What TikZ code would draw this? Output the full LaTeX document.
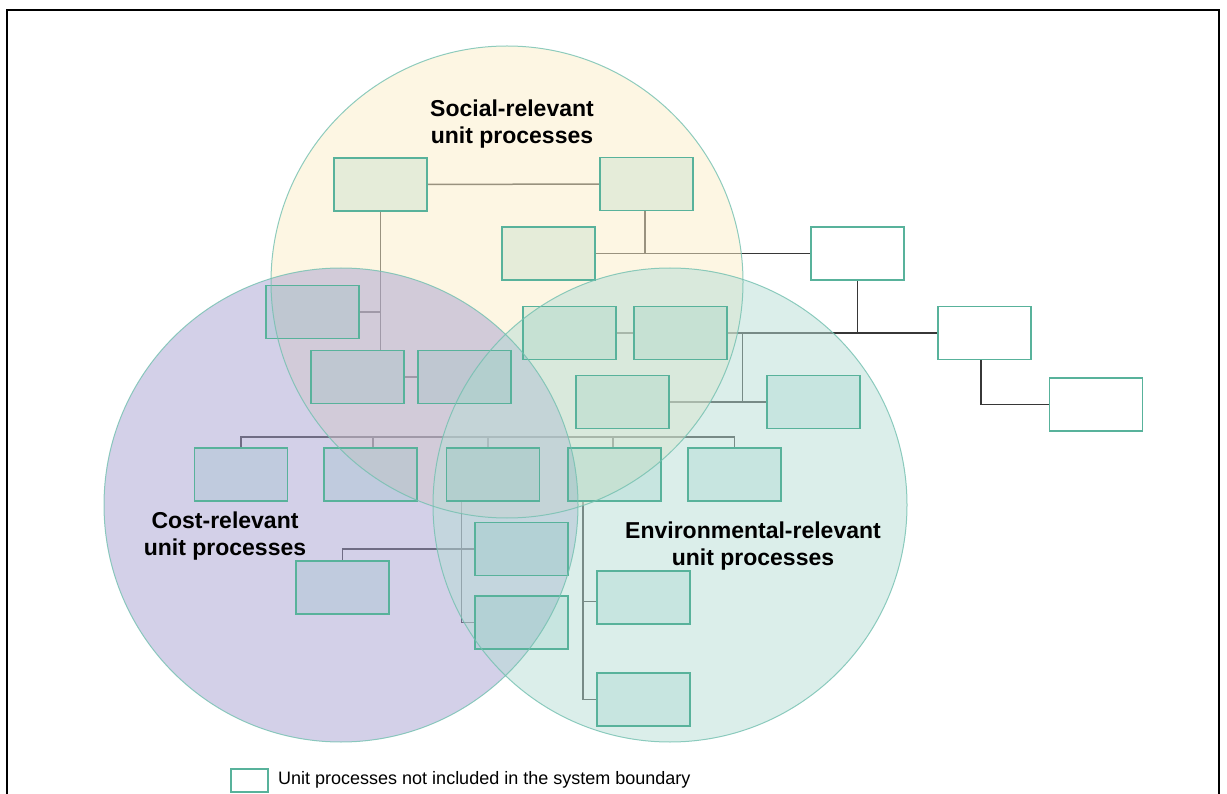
\documentclass[tikz,border=0pt]{standalone}
\usepackage{fontspec}
\setmainfont{Liberation Sans}
\definecolor{socfill}{RGB}{251,237,199}
\definecolor{costfill}{RGB}{167,161,209}
\definecolor{envfill}{RGB}{183,221,213}
\definecolor{circline}{RGB}{115,192,176}
\definecolor{boxline}{RGB}{88,178,155}
\definecolor{boxtint}{RGB}{60,170,150}
\definecolor{connline}{RGB}{55,55,55}
\begin{document}
\begin{tikzpicture}[x=1pt,y=-1pt,
  conn/.style={draw=connline,line width=1.5pt},
  upbox/.style={draw=boxline,line width=1.8pt,minimum width=93pt,minimum height=53pt,inner sep=0pt,outer sep=0pt,fill=boxtint,fill opacity=0.12,draw opacity=1},
  outbox/.style={draw=boxline,line width=1.8pt,minimum width=93pt,minimum height=53pt,inner sep=0pt,outer sep=0pt,fill=white},
  legbox/.style={draw=boxline,line width=1.8pt,minimum width=37pt,minimum height=23pt,inner sep=0pt,outer sep=0pt,fill=white},
  circ/.style={draw=circline,line width=1pt,draw opacity=0.8,fill opacity=0.5},
  lbl/.style={align=center,font=\fontsize{23}{27.5}\selectfont\bfseries,inner sep=0pt},
  legtxt/.style={anchor=west,font=\fontsize{18}{21}\selectfont,inner sep=0pt}
]
\useasboundingbox (0,0) rectangle (1227,794);
% frame
\draw[line width=2pt,black] (7,794) -- (7,10.5) -- (1219,10.5) -- (1219,794);

% box positions (coordinates only, boxes drawn later)
\path
  (380.5,184.5) coordinate (pb1)
  (646.5,184) coordinate (pb2)
  (548.5,253.5) coordinate (pb3)
  (857.5,253.5) coordinate (po1)
  (312.5,312) coordinate (pb4)
  (357.5,377) coordinate (pb5)
  (464.5,377) coordinate (pb6)
  (569.5,333) coordinate (pb7)
  (680.5,333) coordinate (pb8)
  (984.5,333) coordinate (po2)
  (622.5,402) coordinate (pb9)
  (813.5,402) coordinate (pb10)
  (1096,404.5) coordinate (po3)
  (241,474.5) coordinate (prA)
  (370.5,474.5) coordinate (prB)
  (493,474.5) coordinate (prC)
  (614.5,474.5) coordinate (prD)
  (734.5,474.5) coordinate (prE)
  (521.5,549) coordinate (pe1)
  (521.5,622.5) coordinate (pe2)
  (342.5,587.5) coordinate (pf)
  (643.5,597.5) coordinate (pg1)
  (643.5,699.5) coordinate (pg2);

% invisible placeholders to get anchors for connectors
\begin{scope}[every node/.style={minimum width=93pt,minimum height=53pt,inner sep=0pt,outer sep=0pt}]
\node (b1) at (pb1) {}; \node (b2) at (pb2) {}; \node (b3) at (pb3) {};
\node (o1) at (po1) {}; \node (b4) at (pb4) {}; \node (b5) at (pb5) {};
\node (b6) at (pb6) {}; \node (b7) at (pb7) {}; \node (b8) at (pb8) {};
\node (o2) at (po2) {}; \node (b9) at (pb9) {}; \node (b10) at (pb10) {};
\node (o3) at (po3) {}; \node (rA) at (prA) {}; \node (rB) at (prB) {};
\node (rC) at (prC) {}; \node (rD) at (prD) {}; \node (rE) at (prE) {};
\node (e1) at (pe1) {}; \node (e2) at (pe2) {}; \node (f) at (pf) {};
\node (g1) at (pg1) {}; \node (g2) at (pg2) {};
\end{scope}

% connectors
\draw[conn] (b1.east) -- (b2.west);
\draw[conn] (b1.south) -- (b1.south |- b5.north);
\draw[conn] (b4.east) -- (b4.east -| b1.south);
\draw[conn] ([xshift=-1.5pt]b2.south) -- ([xshift=-1.5pt]b2.south |- b3.east);
\draw[conn] (b3.east) -- (o1.west);
\draw[conn] (b5.east) -- (b6.west);
\draw[conn] (b7.east) -- (b8.west);
\draw[conn] (b8.east) -- (o2.west);
\draw[conn] (o1.south) -- (o1.south |- o2.west);
\coordinate (j1) at ([xshift=15.5pt]b8.east);
\draw[conn] (j1) -- (j1 |- b9.east);
\draw[conn] (b9.east) -- (b10.west);
\draw[conn] ([xshift=-3.5pt]o2.south) |- (o3.west);
\coordinate (bus) at (0,437);
\draw[conn] (rA.north) |- (bus -| rE.north) -- (rE.north);
\draw[conn] ([xshift=2.5pt]rB.north) -- ([xshift=2.5pt]rB.north |- bus);
\draw[conn] ([xshift=-5pt]rC.north) -- ([xshift=-5pt]rC.north |- bus);
\draw[conn] ([xshift=-1.5pt]rD.north) -- ([xshift=-1.5pt]rD.north |- bus);
\coordinate (c1) at ([xshift=15pt]rC.south west);
\draw[conn] (c1) |- (e2.west);
\draw[conn] (e1.west) -| (f.north);
\coordinate (d1) at ([xshift=15pt]rD.south west);
\draw[conn] (d1) |- (g2.west);
\draw[conn] ([yshift=-4pt]d1 |- g1.west) -- ([yshift=-4pt]g1.west);

% circles
\fill[socfill,fill opacity=0.5] (507,282) circle (236);
\fill[costfill,fill opacity=0.5] (341,505) circle (237);
\fill[envfill,fill opacity=0.5] (670,505) circle (237);

% boxes
\foreach \n in {b1,b2,b3,b4,b5,b6,b7,b8,b9,b10,rA,rB,rC,rD,rE,e1,e2,f,g1,g2}
  \node[upbox] (box\n) at (p\n) {};
\foreach \n in {o1,o2,o3}
  \node[outbox] (box\n) at (p\n) {};

% circle outlines
\draw[circ] (507,282) circle (236);
\draw[circ] (341,505) circle (237);
\draw[circ] (670,505) circle (237);

% labels
\node[lbl] (lsoc) at (512,124) {Social-relevant\\unit processes};
\node[lbl] (lcost) at (225,536) {Cost-relevant\\unit processes};
\node[lbl] (lenv) at (753,546) {Environmental-relevant\\unit processes};

% legend
\node[legbox] (leg) at (249.5,780.5) {};
\node[legtxt] (legt) at (278,779.5) {Unit processes not included in the system boundary};
\end{tikzpicture}
\end{document}
